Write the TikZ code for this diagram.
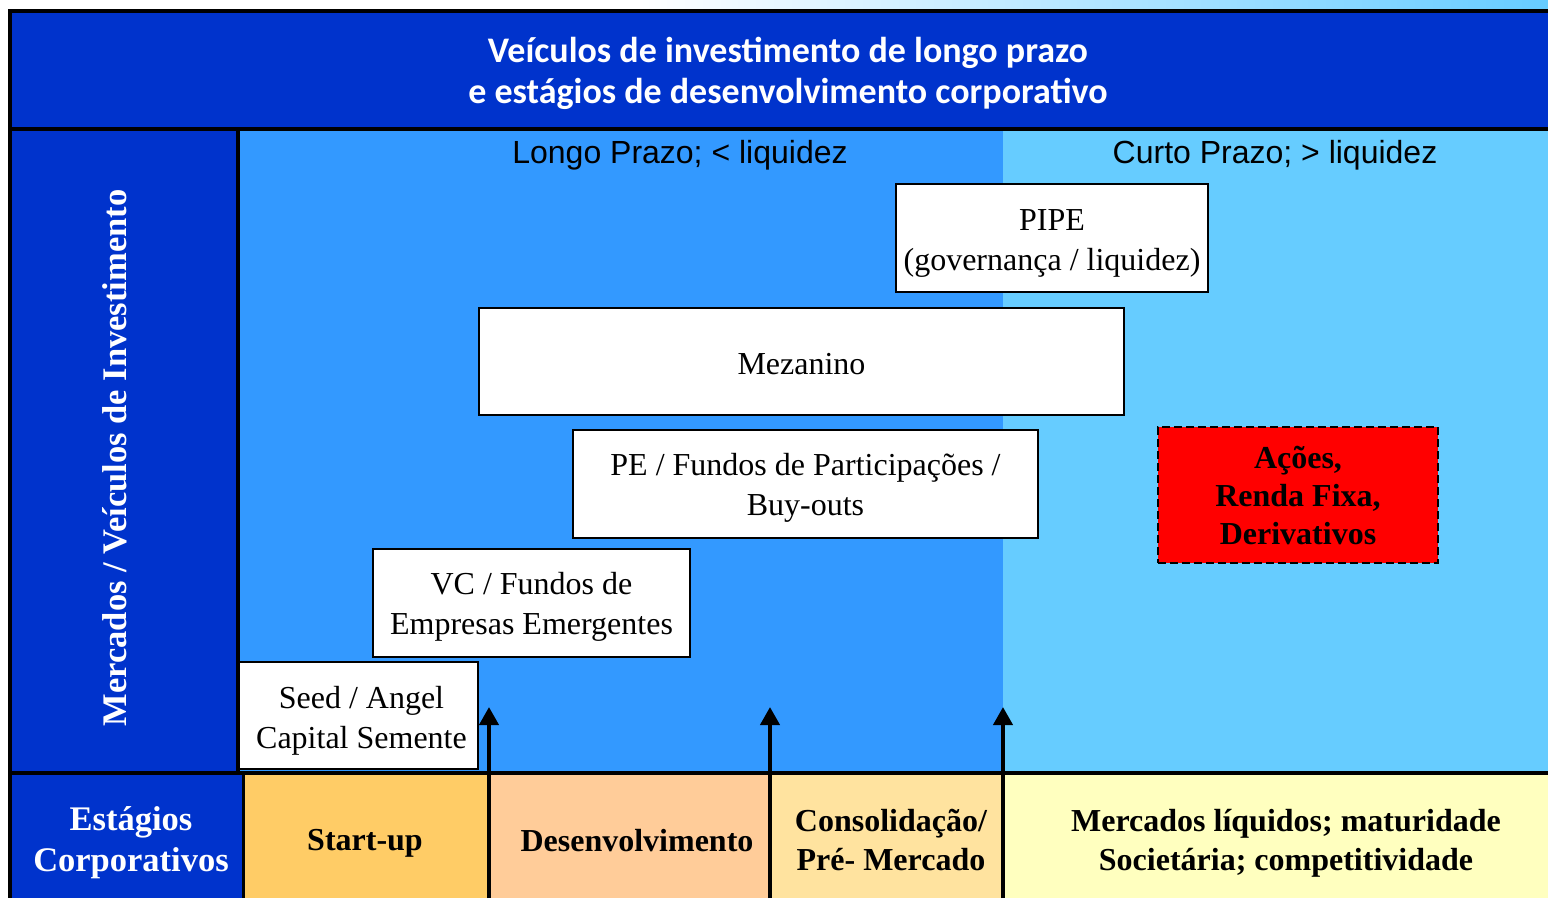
\documentclass[tikz,border=0pt]{standalone}
\usepackage{fontspec}
\setmainfont{Liberation Serif}
\newfontfamily\arialf{Liberation Sans}
\newfontfamily\calib{Carlito}
\usetikzlibrary{arrows.meta}
\definecolor{dkblue}{HTML}{0033CC}
\definecolor{mdblue}{HTML}{3399FF}
\definecolor{ltblue}{HTML}{66CCFF}
\definecolor{startc}{HTML}{FFCC66}
\definecolor{devc}{HTML}{FFCC99}
\definecolor{consc}{HTML}{FFE39F}
\definecolor{mktc}{HTML}{FFFFBF}
\tikzset{
  vehicle/.style={draw=black, line width=2pt, fill=white, inner sep=0pt},
  vtext/.style={inner sep=0pt, align=center, font=\fontsize{32}{40}\selectfont},
  region/.style={inner sep=0pt, outer sep=0pt, align=center},
  stagetxt/.style={font=\fontsize{32}{39}\selectfont\bfseries, align=center},
  frameline/.style={line width=4pt, black},
  stagearrow/.style={line width=4pt, -{Triangle[width=19pt,length=18pt]}},
}
\begin{document}
\begin{tikzpicture}[x=1pt,y=-1pt]
\useasboundingbox (0,0) rectangle (1548,898);
\fill[white] (0,0) rectangle (1548,898);
% faint decoration at the top right
\shade[left color=white, right color=ltblue] (640,0) rectangle (1548,11);
% regions
\node[region, fill=dkblue, minimum width=1540pt, minimum height=118pt] (title) at (780,70) {};
\node[region, fill=dkblue, minimum width=228pt, minimum height=644pt] (leftcol) at (124,451) {};
\node[region, fill=mdblue, minimum width=765pt, minimum height=644pt] (longo) at (620.5,451) {};
\node[region, fill=ltblue, minimum width=545pt, minimum height=644pt] (curto) at (1275.5,451) {};
\node[region, fill=dkblue, minimum width=233pt, minimum height=125pt] (stg) at (126.5,835.5) {};
\node[region, fill=startc, minimum width=246pt, minimum height=125pt] (startup) at (366,835.5) {};
\node[region, fill=devc, minimum width=281pt, minimum height=125pt] (dev) at (629.5,835.5) {};
\node[region, fill=consc, minimum width=233pt, minimum height=125pt] (cons) at (886.5,835.5) {};
\node[region, fill=mktc, minimum width=545pt, minimum height=125pt] (mkt) at (1275.5,835.5) {};
% frame lines
\draw[frameline] (8,11) -- (1548,11);
\draw[frameline] (10,9) -- (10,898);
\draw[frameline] (10,129) -- (1548,129);
\draw[frameline] (238,129) -- (238,773);
\draw[frameline] (10,773) -- (1548,773);
\draw[line width=3pt] (243,773) -- (243,898);
% texts
\node[font=\calib\bfseries\fontsize{36}{41}\selectfont, text=white, align=center] (titletxt) at (788,73)
  {Veículos de investimento de longo prazo\\e estágios de desenvolvimento corporativo};
\node[font=\arialf\fontsize{32}{38}\selectfont] (lp) at (680,155) {Longo Prazo; < liquidez};
\node[font=\arialf\fontsize{32}{38}\selectfont] (cp) at (1275,155) {Curto Prazo; > liquidez};
\node[font=\fontsize{34.5}{40}\selectfont\bfseries, text=white, rotate=90] (mv) at (115,458)
  {Mercados / Veículos de Investimento};
\node[font=\fontsize{34.5}{41}\selectfont\bfseries, align=center, text=white] (stgtxt) at (131,843) {Estágios\\Corporativos};
\node[stagetxt] (startxt) at (365,843) {Start-up};
\node[stagetxt] (devtxt) at (637,841) {Desenvolvimento};
\node[stagetxt] (constxt) at (891,840) {Consolidação/\\Pré- Mercado};
\node[stagetxt] (mkttxt) at (1286,843) {Mercados líquidos; maturidade\\Societária; competitividade};
% vehicles
\node[vehicle, minimum width=312pt, minimum height=108pt] (pipe) at (1052,238) {};
\node[vtext] (pipet) at ([yshift=-5pt]pipe.center) {PIPE\\(governança / liquidez)};
\node[vehicle, minimum width=645pt, minimum height=107pt] (mez) at (801.5,361.5) {};
\node[vtext] (mezt) at ([yshift=-3pt]mez.center) {Mezanino};
\node[vehicle, minimum width=465pt, minimum height=108pt] (pe) at (805.5,484) {};
\node[vtext] (pet) at ([yshift=-4pt]pe.center) {PE / Fundos de Participações /\\Buy-outs};
\node[vehicle, minimum width=317pt, minimum height=108pt] (vc) at (531.5,603) {};
\node[vtext] (vct) at ([yshift=-4pt]vc.center) {VC / Fundos de\\Empresas Emergentes};
\node[vehicle, minimum width=239pt, minimum height=107pt] (seed) at (358.5,715.5) {};
\node[vtext] (seedt) at ([yshift=-5pt, xshift=3pt]seed.center) {Seed / Angel\\Capital Semente};
\node[draw=black, dash pattern=on 8pt off 4pt, line width=2pt, fill=red, inner sep=0pt, align=center,
  font=\fontsize{32}{38}\selectfont\bfseries, minimum width=280pt, minimum height=136pt] (acoes) at (1298,495)
  {Ações,\\Renda Fixa,\\Derivativos};
% stage arrows
\coordinate (a1s) at (489,898); \coordinate (a1e) at (489,707);
\coordinate (a2s) at (770,898); \coordinate (a2e) at (770,707);
\coordinate (a3s) at (1003,898); \coordinate (a3e) at (1003,707);
\draw[stagearrow] (a1s) -- (a1e);
\draw[stagearrow] (a2s) -- (a2e);
\draw[stagearrow] (a3s) -- (a3e);
\end{tikzpicture}
\end{document}
